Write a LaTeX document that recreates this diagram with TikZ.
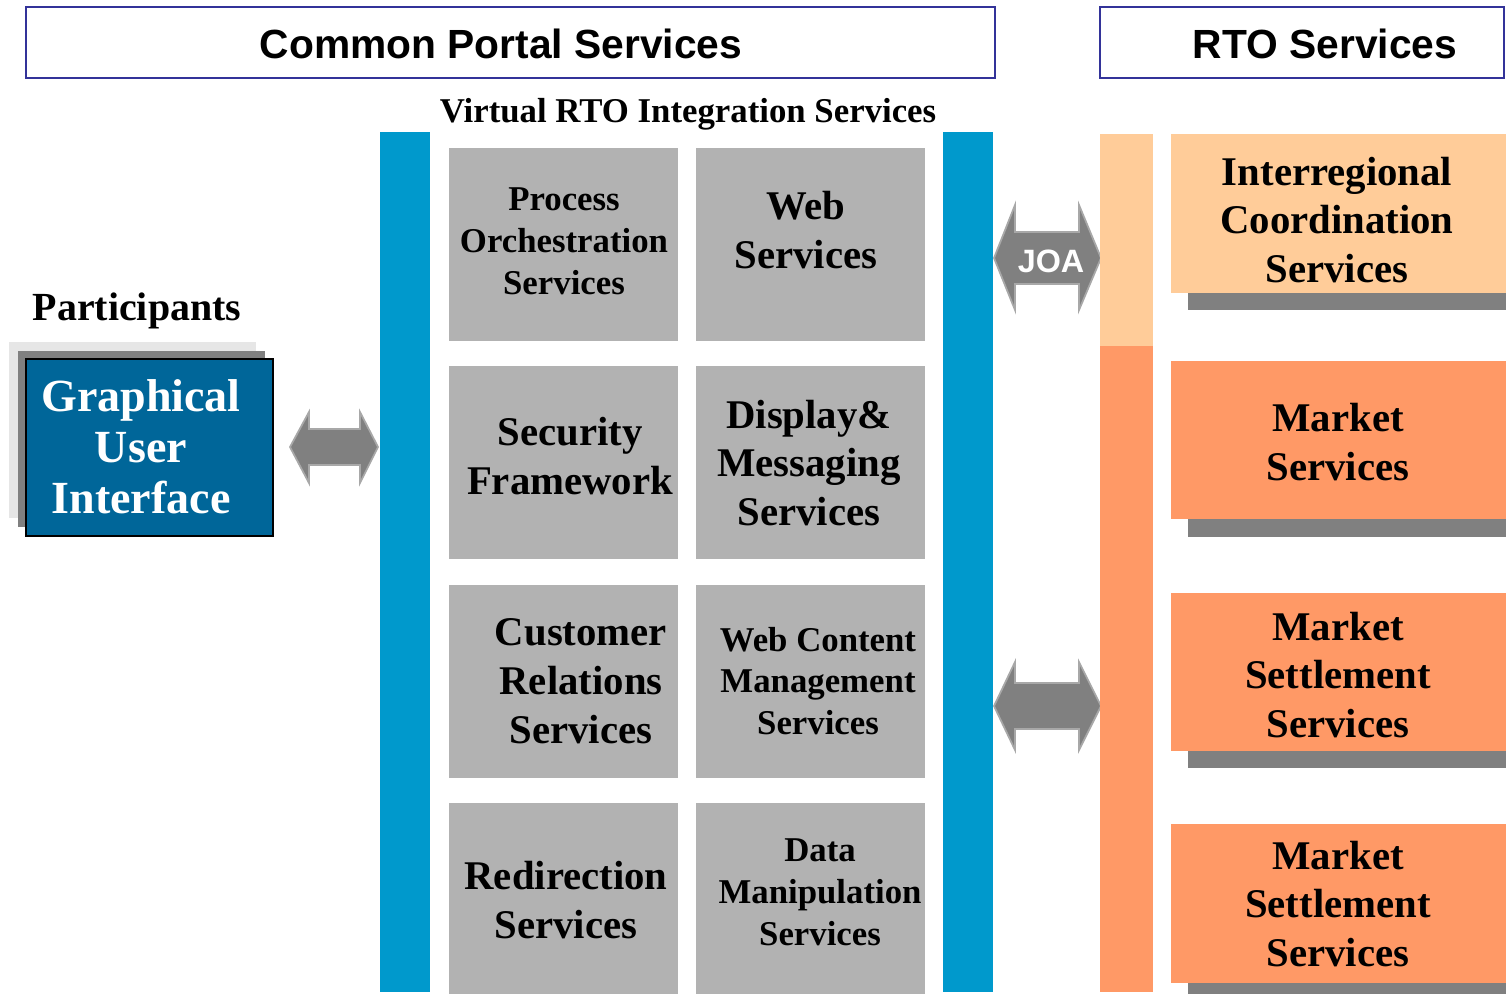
\documentclass[tikz,border=0pt]{standalone}
\usepackage{fontspec}
\setmainfont{Liberation Serif}
\setsansfont{Liberation Sans}
\definecolor{barblue}{HTML}{0099CC}
\definecolor{boxgray}{HTML}{B2B2B2}
\definecolor{lorange}{HTML}{FFCC99}
\definecolor{dorange}{HTML}{FF9966}
\definecolor{shadowgray}{HTML}{808080}
\definecolor{lightshadow}{HTML}{E6E6E6}
\definecolor{guiblue}{HTML}{006699}
\definecolor{headborder}{HTML}{333399}
\definecolor{arrowedge}{HTML}{A8A8A8}
\tikzset{
  rect/.style 2 args={rectangle, inner sep=0pt, outer sep=0pt, anchor=north west,
    minimum width=#1*0.02cm, minimum height=#2*0.02cm},
  header/.style={draw=headborder, line width=1.2pt, fill=white},
  headtext/.style={font=\fontsize{23.2}{27}\selectfont\sffamily\bfseries, inner sep=0pt},
  bigtext/.style={font=\fontsize{23.2}{27.8}\selectfont\bfseries, align=center, inner sep=0pt},
  smalltext/.style={font=\fontsize{19.8}{23.8}\selectfont\bfseries, align=center, inner sep=0pt},
  guitext/.style={font=\fontsize{26.2}{28.9}\selectfont\bfseries, align=center, inner sep=0pt, text=white},
  blockarrow/.style={fill=shadowgray, draw=arrowedge, line width=1pt, line join=miter},
}
\begin{document}
\begin{tikzpicture}[x=0.02cm,y=-0.02cm]
\useasboundingbox (0,0) rectangle (1506,994);
% headers
\node[rect={969}{71}, header] (cps) at (26,7) {};
\node[headtext] (cpst) at (501,44) {Common Portal Services};
\node[rect={404}{71}, header] (rtos) at (1100,7) {};
\node[headtext] (rtost) at (1325,44) {RTO Services};
% virtual title
\node[font=\fontsize{19.8}{23.8}\selectfont\bfseries, inner sep=0pt] (virt) at (688,114) {Virtual RTO Integration Services};
% blue bars
\node[rect={50}{860}, fill=barblue] (barL) at (380,132) {};
\node[rect={50}{860}, fill=barblue] (barR) at (943,132) {};
% gray boxes
\node[rect={229}{193}, fill=boxgray] (b11) at (449,148) {};
\node[rect={229}{193}, fill=boxgray] (b12) at (696,148) {};
\node[rect={229}{193}, fill=boxgray] (b21) at (449,366) {};
\node[rect={229}{193}, fill=boxgray] (b22) at (696,366) {};
\node[rect={229}{193}, fill=boxgray] (b31) at (449,585) {};
\node[rect={229}{193}, fill=boxgray] (b32) at (696,585) {};
\node[rect={229}{191}, fill=boxgray] (b41) at (449,803) {};
\node[rect={229}{191}, fill=boxgray] (b42) at (696,803) {};
\node[smalltext] (t11) at (564,241) {Process\\Orchestration\\Services};
\node[bigtext] (t12) at (806,230) {Web\\Services};
\node[bigtext] (t21) at (570,456) {Security\\Framework};
\node[bigtext] (t22) at (809,463) {Display\&\\Messaging\\Services};
\node[bigtext] (t31) at (581,681) {Customer\\Relations\\Services};
\node[smalltext] (t32) at (818,681) {Web Content\\Management\\Services};
\node[bigtext] (t41) at (566,900) {Redirection\\Services};
\node[smalltext] (t42) at (820,892) {Data\\Manipulation\\Services};
% participants
\node[font=\fontsize{22.7}{27}\selectfont\bfseries, inner sep=0pt] (part) at (137,311) {Participants};
\node[rect={247}{176}, fill=lightshadow] (gs1) at (9,342) {};
\node[rect={247}{176}, fill=shadowgray] (gs2) at (18,351) {};
\node[rect={247}{177}, fill=guiblue, draw=black, line width=1.1pt] (gui) at (26,359) {};
\node[guitext] (guit) at (141,447) {Graphical\\User\\Interface};
% left arrow
\draw[blockarrow] (290,447) -- (309,412) -- (309,429) -- (360,429) -- (360,412) -- (378,447)
  -- (360,483) -- (360,465) -- (309,465) -- (309,483) -- cycle;
% JOA arrow
\draw[blockarrow] (994,258) -- (1015,205) -- (1015,232) -- (1079,232) -- (1079,205) -- (1101,258)
  -- (1079,310) -- (1079,284) -- (1015,284) -- (1015,310) -- cycle;
\node[font=\fontsize{18.4}{22}\selectfont\sffamily\bfseries, text=white, inner sep=0pt] (joa) at (1051,261) {JOA};
% bottom arrow
\draw[blockarrow] (994,706) -- (1015,662) -- (1015,683) -- (1079,683) -- (1079,662) -- (1101,706)
  -- (1079,750) -- (1079,729) -- (1015,729) -- (1015,750) -- cycle;
% orange bar
\node[rect={53}{212}, fill=lorange] (obar1) at (1100,134) {};
\node[rect={53}{646}, fill=dorange] (obar2) at (1100,346) {};
% right boxes with shadows
\node[rect={318}{17}, fill=shadowgray] (s1) at (1188,293) {};
\node[rect={335}{159}, fill=lorange] (r1) at (1171,134) {};
\node[bigtext] (r1t) at (1337,220) {Interregional\\Coordination\\Services};
\node[rect={318}{18}, fill=shadowgray] (s2) at (1188,519) {};
\node[rect={335}{158}, fill=dorange] (r2) at (1171,361) {};
\node[bigtext] (r2t) at (1338,442) {Market\\Services};
\node[rect={318}{17}, fill=shadowgray] (s3) at (1188,751) {};
\node[rect={335}{158}, fill=dorange] (r3) at (1171,593) {};
\node[bigtext] (r3t) at (1338,675) {Market\\Settlement\\Services};
\node[rect={318}{11}, fill=shadowgray] (s4) at (1188,983) {};
\node[rect={335}{159}, fill=dorange] (r4) at (1171,824) {};
\node[bigtext] (r4t) at (1338,904) {Market\\Settlement\\Services};
\end{tikzpicture}
\end{document}
